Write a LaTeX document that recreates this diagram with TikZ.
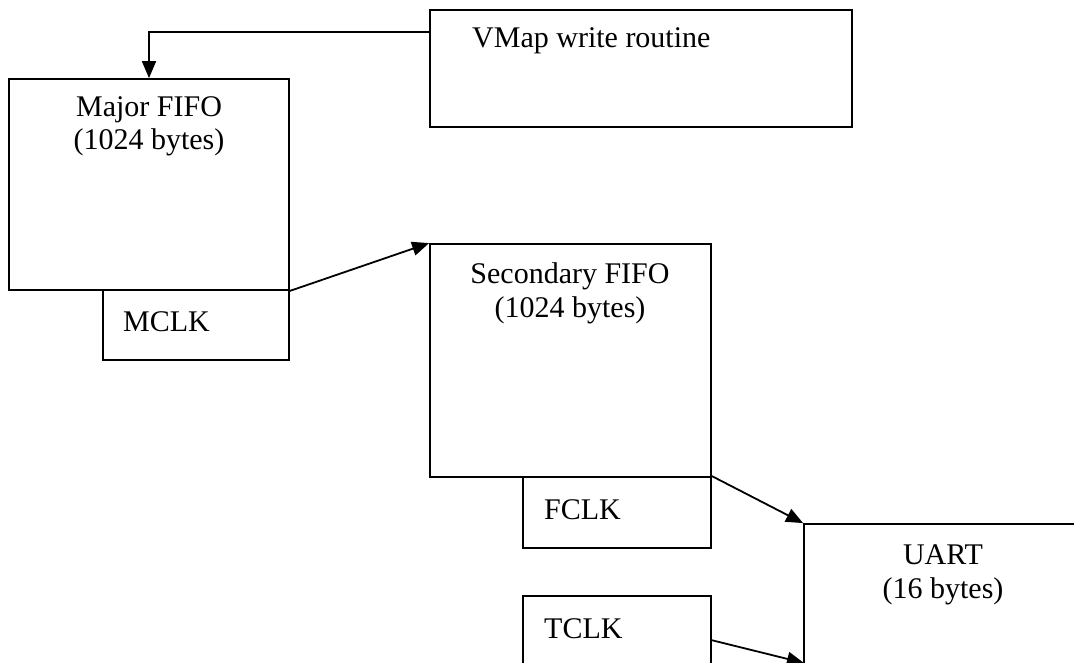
\documentclass[tikz,border=0pt]{standalone}
\usepackage{fontspec}
\setmainfont{Liberation Serif}
\usetikzlibrary{arrows.meta}
\begin{document}
\begin{tikzpicture}[x=1pt,y=-1pt,
  box/.style={draw=black, line width=1.8pt, rectangle, inner sep=0pt},
  lbl/.style={inner sep=0pt, font=\fontsize{30}{34}\selectfont},
  arr/.style={line width=1.8pt, -{Triangle[length=17pt,width=14pt]}}]
\useasboundingbox (0,0) rectangle (1074,662);
\clip (0,0) rectangle (1074,662);
% boxes
\node[box, minimum width=422pt, minimum height=117pt] (vmap) at (641,68.5) {};
\node[box, minimum width=280pt, minimum height=211pt] (major) at (149,184.5) {};
\node[box, minimum width=186pt, minimum height=70pt] (mclk) at (196,325) {};
\node[box, minimum width=281pt, minimum height=233pt] (sec) at (570.5,360.5) {};
\node[box, minimum width=188pt, minimum height=71pt] (fclk) at (617,512.5) {};
\node[box, minimum width=188pt, minimum height=71pt] (tclk) at (617,631.5) {};
\node[box, minimum width=306pt, minimum height=196pt] (uart) at (957,622) {};
% labels
\node[lbl, anchor=base west] (tvmap) at (472,47) {VMap write routine};
\node[lbl, anchor=base] (tmajor1) at (149,116) {Major FIFO};
\node[lbl, anchor=base] (tmajor2) at (149,149) {(1024 bytes)};
\node[lbl, anchor=base west] (tmclk) at (123,331) {MCLK};
\node[lbl, anchor=base] (tsec1) at (570,283) {Secondary FIFO};
\node[lbl, anchor=base] (tsec2) at (570,317) {(1024 bytes)};
\node[lbl, anchor=base west] (tfclk) at (544,519) {FCLK};
\node[lbl, anchor=base] (tuart1) at (943,564) {UART};
\node[lbl, anchor=base] (tuart2) at (943,598) {(16 bytes)};
\node[lbl, anchor=base west] (ttclk) at (544,638) {TCLK};
% connectors
\coordinate (tclkout) at (711,640);
\coordinate (uartin) at (804,663);
\draw[arr] ([yshift=-23pt]vmap.north west) -| (major.north);
\draw[arr] (major.south east) -- (sec.north west);
\draw[arr] (fclk.north east) -- (uart.north west);
\draw[arr] (tclkout) -- (uartin);
\end{tikzpicture}
\end{document}
